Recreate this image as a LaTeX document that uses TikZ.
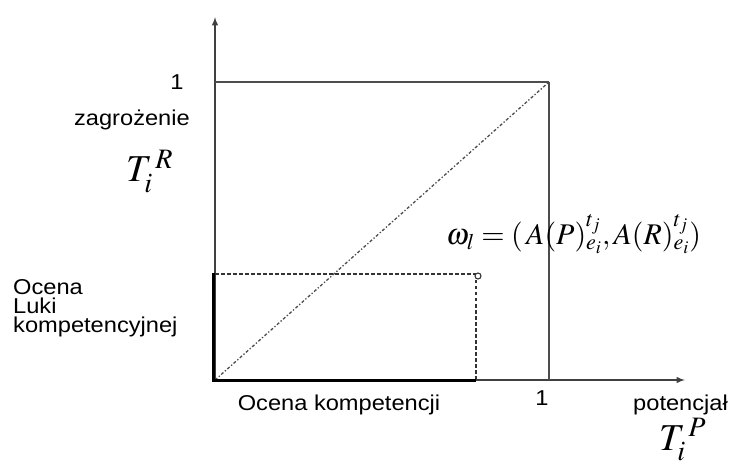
\documentclass[tikz,border=0pt]{standalone}
\usepackage{mathptmx}
\usepackage{fontspec}
\setmainfont[FakeStretch=1.1]{Liberation Sans}
\usepackage{amssymb, amsmath}
\usetikzlibrary{calc}

\tikzset{
  axis/.style={line width=1.9pt, black!75, -latex},
  frame/.style={line width=1.9pt, black!70},
  gap/.style={line width=1.5pt, black!80, dash pattern=on 3.5pt off 2.5pt},
  lbl/.style={font=\fontsize{21.5}{20}\selectfont, inner sep=0pt},
  mlbl/.style={font=\fontsize{38}{40}\selectfont, inner sep=0pt}
}

\begin{document}
\begin{tikzpicture}
\begin{scope}[x=1pt, y=-1pt]
\useasboundingbox (0,0) rectangle (734,465);
\coordinate (O) at (215,380);
\coordinate (ytip) at (215,17);
\coordinate (xtip) at (685,380);
\coordinate (one) at (549,82);
\coordinate (p) at (476,274);

% axes and unit square
\draw[axis](O)to(ytip);
\draw[axis](O)to(xtip);
\draw[frame](O|-one)to(one);
\draw[frame](one)to(one|-O);
\draw[line width=1.3pt, black!70, dash dot](O)to(one);

% competence point
\draw[gap](O|-p)to(p);
\draw[gap](p)to(p|-O);
\draw[line width=1.1pt, black!80, fill=white](478,276)circle (3pt);
\draw[line width=3pt](213,273)to(213,381);
\draw[line width=3pt](212,380)to(p|-O);

\node[lbl] (one_y) at (177,82) {1};
\node[lbl, anchor=base east] (zagr) at (190,126) {zagrożenie};
\node[mlbl, anchor=base west] (TR) at (126,182) {$T_i^{\,R}$};
\node[lbl, anchor=base west, align=left] (luka) at (13,332) {Ocena\\[-1pt]Luki\\[-1pt]kompetencyjnej};
\node[font=\fontsize{30}{30}\selectfont, inner sep=0pt, anchor=base west] (omega) at (446,245) {$\omega_l=(\,A(P)^{t_j}_{e_i},A(R)^{t_j}_{e_i})$};
\node[lbl, anchor=base] (komp) at (339,410) {Ocena kompetencji};
\node[lbl] (one_x) at (542,398) {1};
\node[lbl, anchor=base west] (pot) at (633,410) {potencjał};
\node[mlbl, anchor=base west] (TP) at (659,450) {$T_i^{\,P}$};
\end{scope}
\end{tikzpicture}
\end{document}
